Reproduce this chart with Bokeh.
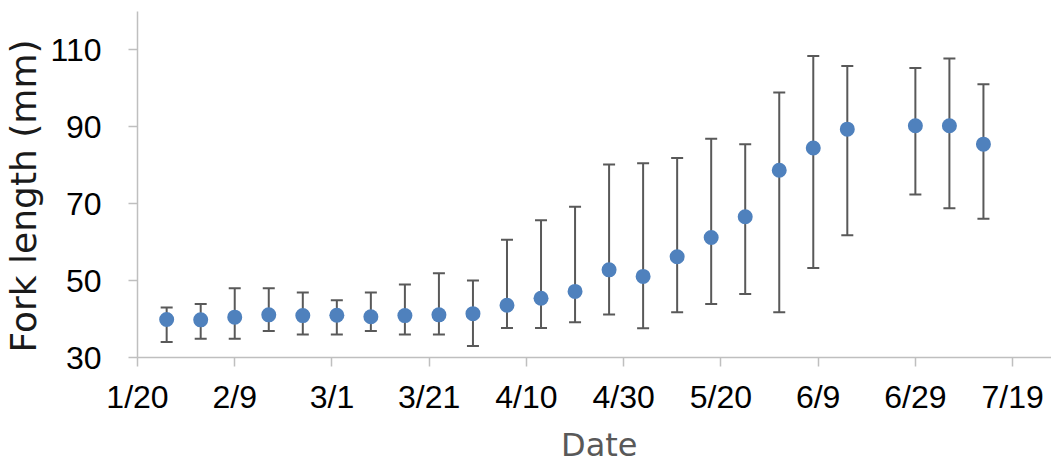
import pandas as pd
from bokeh.plotting import figure
from bokeh.layouts import column
from bokeh.models import ColumnDataSource, FixedTicker, Whisker, TeeHead, Range1d, Div
from bokeh.embed import file_html
from bokeh.resources import INLINE

# ---- data ----
dates = ["2015-01-26", "2015-02-02", "2015-02-09", "2015-02-16", "2015-02-23",
         "2015-03-02", "2015-03-09", "2015-03-16", "2015-03-23", "2015-03-30",
         "2015-04-06", "2015-04-13", "2015-04-20", "2015-04-27", "2015-05-04",
         "2015-05-11", "2015-05-18", "2015-05-25", "2015-06-01", "2015-06-08",
         "2015-06-15", "2015-06-29", "2015-07-06", "2015-07-13"]
mean_fl = [39.9, 39.8, 40.5, 41.1, 40.9, 41.0, 40.6, 40.9, 41.1, 41.4,
           43.6, 45.4, 47.2, 52.8, 51.1, 56.2, 61.2, 66.6, 78.7, 84.5,
           89.4, 90.3, 90.3, 85.5]
upper_fl = [43.0, 43.9, 48.0, 48.0, 46.9, 44.9, 46.9, 49.0, 51.9, 50.0,
            60.6, 65.7, 69.2, 80.2, 80.5, 81.9, 86.9, 85.5, 98.9, 108.4,
            105.8, 105.3, 107.8, 101.1]
lower_fl = [34.0, 34.9, 34.9, 36.9, 36.0, 36.0, 36.9, 36.0, 36.0, 33.0,
            37.7, 37.7, 39.2, 41.2, 37.6, 41.8, 43.9, 46.5, 41.8, 53.3,
            61.8, 72.4, 68.8, 66.1]
tick_dates = ["2015-01-20", "2015-02-09", "2015-03-01", "2015-03-21", "2015-04-10",
              "2015-04-30", "2015-05-20", "2015-06-09", "2015-06-29", "2015-07-19"]
tick_labels = ["1/20", "2/9", "3/1", "3/21", "4/10", "4/30", "5/20", "6/9", "6/29", "7/19"]
y_ticks = [30, 50, 70, 90, 110]

origin = pd.Timestamp(tick_dates[0])
day = [(pd.Timestamp(d) - origin).days for d in dates]
tick_day = [(pd.Timestamp(d) - origin).days for d in tick_dates]

src = ColumnDataSource(dict(x=day, y=mean_fl, upper=upper_fl, lower=lower_fl))

p = figure(width=1051, height=430, output_backend="svg", toolbar_location=None,
           x_range=Range1d(0, 188), y_range=Range1d(30, 120),
           min_border_left=135, min_border_right=0, min_border_top=11, min_border_bottom=73)
p.outline_line_color = None
p.xgrid.visible = False
p.ygrid.visible = False

bar_color = "#595959"
w = Whisker(source=src, base="x", upper="upper", lower="lower", dimension="height",
            line_color=bar_color, line_width=2,
            upper_head=TeeHead(size=12, line_color=bar_color, line_width=2),
            lower_head=TeeHead(size=12, line_color=bar_color, line_width=2))
p.add_layout(w)
p.scatter("x", "y", source=src, size=15, fill_color="#4F81BD", line_color=None)

axis_col = "#BFBFBF"
for ax in (p.xaxis[0], p.yaxis[0]):
    ax.axis_line_color = axis_col
    ax.axis_line_width = 1.5
    ax.major_tick_line_color = axis_col
    ax.major_tick_line_width = 1.5
    ax.major_tick_out = 9
    ax.major_tick_in = 0
    ax.minor_tick_line_color = None
    ax.major_label_text_font = "Liberation Sans"
    ax.major_label_text_font_size = "32px"
    ax.major_label_text_color = "#000000"

p.xaxis.ticker = FixedTicker(ticks=tick_day)
p.xaxis.major_label_overrides = {t: lab for t, lab in zip(tick_day, tick_labels)}
p.xaxis.major_label_standoff = 12

p.yaxis.ticker = FixedTicker(ticks=y_ticks)
p.yaxis.major_label_standoff = 27
p.yaxis.axis_label = "Fork length (mm)\u00a0\u00a0"
p.yaxis.axis_label_text_font = "DejaVu Sans"
p.yaxis.axis_label_text_font_size = "36px"
p.yaxis.axis_label_text_font_style = "normal"
p.yaxis.axis_label_text_color = "#1a1a1a"
p.yaxis.axis_label_standoff = 3

date_div = Div(text="Date", width=200, height=34, margin=(0, 0, 0, 561),
               styles={"font-family": "DejaVu Sans", "font-size": "32px",
                       "color": "#595959", "line-height": "30px"})

layout = column(p, date_div, spacing=0)
open("out.html", "w").write(file_html(layout, INLINE))
